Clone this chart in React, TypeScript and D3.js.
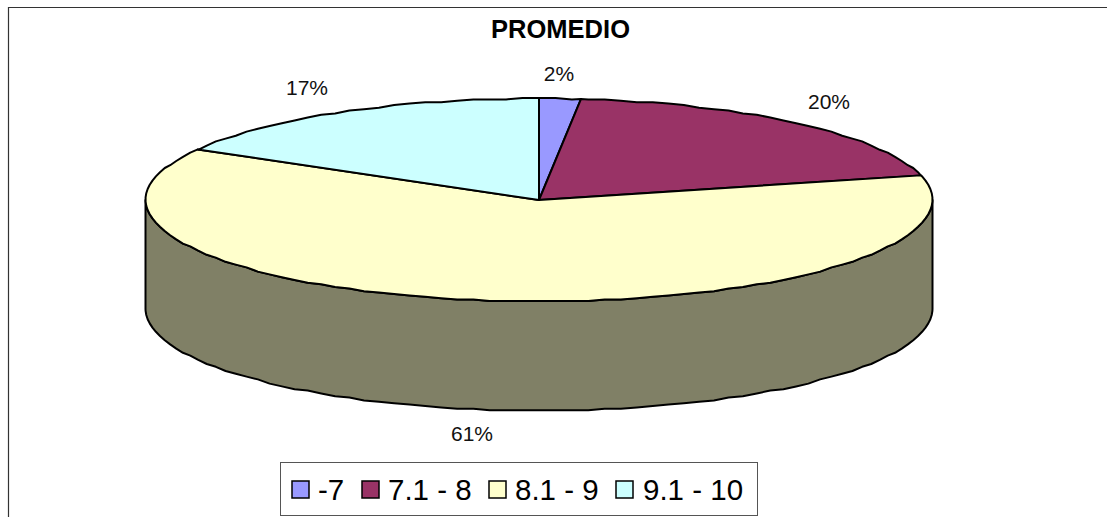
import React from "react";
import * as d3 from "d3";

const title = "PROMEDIO";
const categories = ["-7", "7.1 - 8", "8.1 - 9", "9.1 - 10"];
const shares = [1.7, 19.4, 62.2, 16.7];
const percentLabels = ["2%", "20%", "61%", "17%"];
const sliceColors = ["#9999FF", "#993366", "#FFFFCC", "#CCFFFF"];
const sideColor = "#808066";

const W = 1107, H = 517;
const cx = 539, cy = 200, rx = 393.5, ry = 101.5, depth = 109;
const FONT = "'Liberation Sans', Arial, sans-serif";

const px = d3.scaleLinear().domain([-1, 1]).range([cx - rx, cx + rx]);
const py = d3.scaleLinear().domain([-1, 1]).range([cy - ry, cy + ry]);

const pieGen = d3.pie<number>().sort(null).value((d) => d);
const arcs = pieGen(shares);

// Coarse sampling on a small pixel grid reproduces the slightly stepped rim of the original rendering.
const STEP = (Math.PI * 2) / 150;
const GRID = 1.4;
const snap = (v: number) => Math.round(v / GRID) * GRID;
function rim(a0: number, a1: number, dy = 0): [number, number][] {
  const first = Math.ceil(a0 / STEP);
  const last = Math.floor(a1 / STEP);
  const pt = (a: number) => [px(Math.sin(a)), py(-Math.cos(a)) + dy] as [number, number];
  const mid = d3.range(first, last + 1).map((k) => {
    const [x, y] = pt(k * STEP);
    return [x, snap(y)] as [number, number];
  });
  return [pt(a0), ...mid, pt(a1)];
}
const line = d3.line();

function slicePath(a0: number, a1: number) {
  return line([[cx, cy], ...rim(a0, a1), [cx, cy]]) + "Z";
}
const sidePath =
  line([
    ...rim(Math.PI / 2, (3 * Math.PI) / 2),
    ...rim(Math.PI / 2, (3 * Math.PI) / 2, depth).reverse(),
  ]) + "Z";

const labelPos: [number, number][] = [[559, 81], [829, 109], [472, 441], [307, 95]];

const legendBox = { x: 280, y: 462, w: 477, h: 53 };
const legendSwatchX = [292, 362, 489, 616];
const legendTextX = [318, 388, 515, 643];

export default function App() {
  return (
    <svg width={W} height={H} style={{ position: "absolute", left: 0, top: 0, background: "#fff" }} fontFamily={FONT}>
      <path d={`M8.5,${H}V7.5H${W}`} fill="none" stroke="#333" strokeWidth={1.2} />
      <text x={560.5} y={38} textAnchor="middle" fontWeight="bold" fontSize={25.5} fill="#000" textLength={139} lengthAdjust="spacingAndGlyphs">{title}</text>
      <path d={sidePath} fill={sideColor} stroke="#000" strokeWidth={2} strokeLinejoin="round" />
      {arcs.map((a, i) => (
        <path key={i} d={slicePath(a.startAngle, a.endAngle)} fill={sliceColors[i]} stroke="#000" strokeWidth={2} strokeLinejoin="round" />
      ))}
      {percentLabels.map((t, i) => (
        <text key={t} x={labelPos[i][0]} y={labelPos[i][1]} textAnchor="middle" fontSize={21} fill="#111">{t}</text>
      ))}
      <rect x={legendBox.x + 0.5} y={legendBox.y + 0.5} width={legendBox.w} height={legendBox.h} fill="#fff" stroke="#555" strokeWidth={1} />
      {categories.map((c, i) => (
        <g key={c}>
          <rect x={legendSwatchX[i]} y={481} width={17} height={17} fill={sliceColors[i]} stroke="#000" strokeWidth={1.5} />
          <text x={legendTextX[i]} y={499.5} fontSize={29.5} fill="#000">{c}</text>
        </g>
      ))}
    </svg>
  );
}
